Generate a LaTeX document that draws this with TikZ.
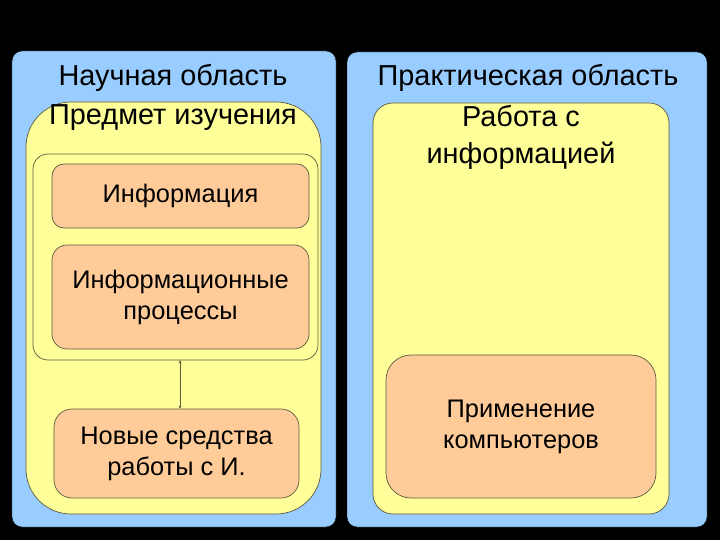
\documentclass[tikz,border=0pt]{standalone}
\usepackage{fontspec}
\setmainfont{Liberation Sans}
\usetikzlibrary{arrows.meta}
\definecolor{panelblue}{HTML}{99CCFF}
\definecolor{fieldyellow}{HTML}{FFFF99}
\definecolor{boxorange}{HTML}{FFCC99}
\definecolor{edgegray}{HTML}{5A5A40}

\begin{document}
\begin{tikzpicture}[x=1bp, y=-1bp,
    panel/.style={draw=black, fill=panelblue, rounded corners=10bp, inner sep=0pt},
    field/.style={draw=edgegray, fill=fieldyellow, line width=0.7bp, inner sep=0pt},
    item/.style={draw=edgegray, fill=boxorange, line width=0.7bp, inner sep=0pt, align=center,
      font=\fontsize{25.5}{31}\selectfont},
    heading/.style={font=\fontsize{29}{37}\selectfont, align=center, inner sep=0pt}]
    \fill [black] (0,0) rectangle (720,540);
    \useasboundingbox (0,0) rectangle (720,540);
    \node [panel, minimum width=324bp, minimum height=476bp] (science) at (174,289) {};
    \node [panel, minimum width=360bp, minimum height=475bp] (practice) at (527,289.5) {};
    \node [field, rounded corners=45bp, minimum width=295bp, minimum height=412bp] (subject) at (173.5,308) {};
    \node [field, rounded corners=20bp, minimum width=296bp, minimum height=411bp] (work) at (521,308.5) {};
    \node [field, rounded corners=15bp, minimum width=285bp, minimum height=206bp] (frame) at (175.5,257) {};
    \node [item, rounded corners=12bp, minimum width=257bp, minimum height=64bp] (info) at (180.5,196) {Информация};
    \node [item, rounded corners=15bp, minimum width=257bp, minimum height=104bp] (proc) at (180.5,297) {Информационные\\процессы};
    \node [item, rounded corners=18bp, minimum width=245bp, minimum height=89bp] (tools) at (176.5,453.5) {Новые средства\\работы с И.};
    \node [item, rounded corners=25bp, minimum width=270bp, minimum height=143bp] (usage) at (521,426.5) {Применение\\компьютеров};
    \node [heading] (sciencetitle) at (173,78) {Научная область};
    \node [heading] (subjecttitle) at (173,118) {Предмет изучения};
    \node [heading] (practicetitle) at (528,78) {Практическая область};
    \node [heading] (worktitle) at (521,137) {Работа с\\информацией};
    \draw [{Stealth[length=3bp,width=3bp]}-{Stealth[length=3bp,width=3bp]}, edgegray, line width=0.6bp]
      ([xshift=4.5bp]frame.south) -- ([xshift=3.5bp]tools.north);
\end{tikzpicture}
\end{document}
